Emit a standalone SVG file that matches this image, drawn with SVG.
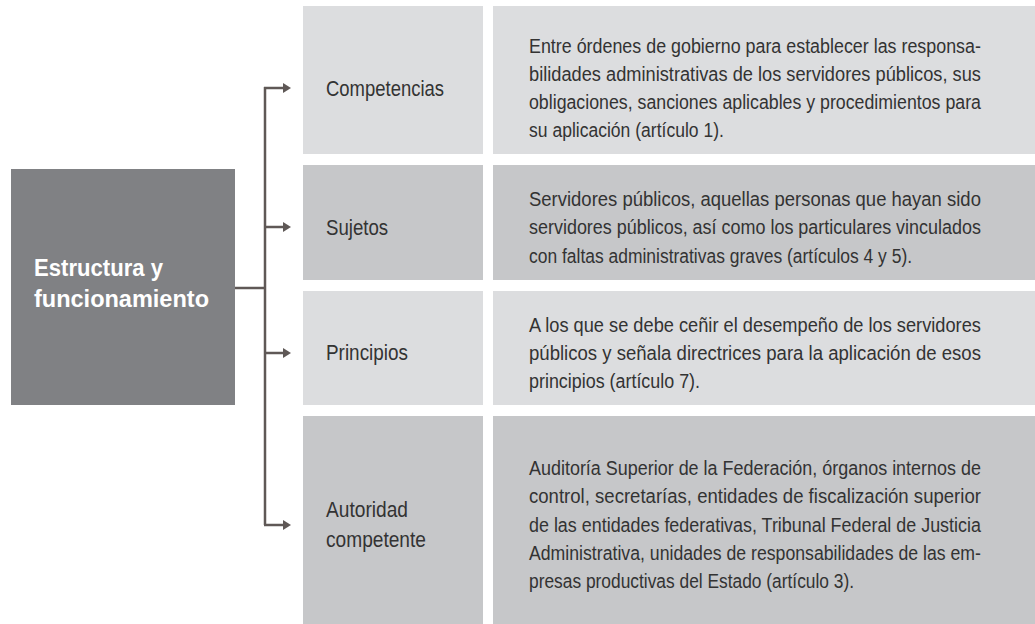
<svg xmlns="http://www.w3.org/2000/svg" width="1035" height="624" viewBox="0 0 1035 624">
<style>
.light{fill:#dcdddf}
.dark{fill:#c6c7c9}
text{font-family:"Liberation Sans",Arial,sans-serif}
.lbl{font-size:22px;fill:#333333}
.body{font-size:21px;fill:#333333}
.title{font-size:23px;font-weight:bold;fill:#ffffff}
.conn{fill:none;stroke:#5f5856;stroke-width:2.5}
</style>
<defs>
<marker id="arr" viewBox="0 0 8 10" refX="0" refY="5" markerWidth="8" markerHeight="10" markerUnits="userSpaceOnUse" orient="auto">
<path d="M0,0 L8,5 L0,10 Z" fill="#5f5856"/>
</marker>
</defs>
<rect width="1035" height="624" fill="#ffffff"/>
<g id="root">
<rect x="11" y="169" width="224" height="236" fill="#808184"/>
<text class="title" x="34" y="276" textLength="129" lengthAdjust="spacingAndGlyphs">Estructura y</text>
<text class="title" x="34" y="307" textLength="175" lengthAdjust="spacingAndGlyphs">funcionamiento</text>
</g>
<g id="connectors">
<path class="conn" d="M235,288 H265"/>
<path class="conn" d="M265,87 V525"/>
<path class="conn" d="M264,88 H283" marker-end="url(#arr)"/>
<path class="conn" d="M264,227 H283" marker-end="url(#arr)"/>
<path class="conn" d="M264,353 H283" marker-end="url(#arr)"/>
<path class="conn" d="M264,525 H283" marker-end="url(#arr)"/>
</g>
<g id="row-competencias">
<rect class="light" x="303" y="6" width="180" height="148"/>
<rect class="light" x="493" y="6" width="542" height="148"/>
<g transform="translate(326,0) scale(0.84,1)">
<text class="lbl" x="0" y="96" textLength="140.5" lengthAdjust="spacingAndGlyphs">Competencias</text>
</g>
<g transform="translate(529,0) scale(0.84,1)">
<text class="body" x="0" y="53" textLength="538" lengthAdjust="spacingAndGlyphs">Entre órdenes de gobierno para establecer las responsa-</text>
<text class="body" x="0" y="81" textLength="538" lengthAdjust="spacingAndGlyphs">bilidades administrativas de los servidores públicos, sus</text>
<text class="body" x="0" y="109" textLength="538" lengthAdjust="spacingAndGlyphs">obligaciones, sanciones aplicables y procedimientos para</text>
<text class="body" x="0" y="137" textLength="232" lengthAdjust="spacingAndGlyphs">su aplicación (artículo 1).</text>
</g>
</g>
<g id="row-sujetos">
<rect class="dark" x="303" y="165" width="180" height="115"/>
<rect class="dark" x="493" y="165" width="542" height="115"/>
<g transform="translate(326,0) scale(0.84,1)">
<text class="lbl" x="0" y="235" textLength="74" lengthAdjust="spacingAndGlyphs">Sujetos</text>
</g>
<g transform="translate(529,0) scale(0.84,1)">
<text class="body" x="0" y="206" textLength="538" lengthAdjust="spacingAndGlyphs">Servidores públicos, aquellas personas que hayan sido</text>
<text class="body" x="0" y="234" textLength="538" lengthAdjust="spacingAndGlyphs">servidores públicos, así como los particulares vinculados</text>
<text class="body" x="0" y="263" textLength="456" lengthAdjust="spacingAndGlyphs">con faltas administrativas graves (artículos 4 y 5).</text>
</g>
</g>
<g id="row-principios">
<rect class="light" x="303" y="291" width="180" height="114"/>
<rect class="light" x="493" y="291" width="542" height="114"/>
<g transform="translate(326,0) scale(0.84,1)">
<text class="lbl" x="0" y="360" textLength="97.6" lengthAdjust="spacingAndGlyphs">Principios</text>
</g>
<g transform="translate(529,0) scale(0.84,1)">
<text class="body" x="0" y="332" textLength="538" lengthAdjust="spacingAndGlyphs">A los que se debe ceñir el desempeño de los servidores</text>
<text class="body" x="0" y="360" textLength="538" lengthAdjust="spacingAndGlyphs">públicos y señala directrices para la aplicación de esos</text>
<text class="body" x="0" y="388" textLength="203.6" lengthAdjust="spacingAndGlyphs">principios (artículo 7).</text>
</g>
</g>
<g id="row-autoridad">
<rect class="dark" x="303" y="416" width="180" height="208"/>
<rect class="dark" x="493" y="416" width="542" height="208"/>
<g transform="translate(326,0) scale(0.84,1)">
<text class="lbl" x="0" y="517" textLength="97.6" lengthAdjust="spacingAndGlyphs">Autoridad</text>
<text class="lbl" x="0" y="547" textLength="119" lengthAdjust="spacingAndGlyphs">competente</text>
</g>
<g transform="translate(529,0) scale(0.84,1)">
<text class="body" x="0" y="475" textLength="538" lengthAdjust="spacingAndGlyphs">Auditoría Superior de la Federación, órganos internos de</text>
<text class="body" x="0" y="503" textLength="538" lengthAdjust="spacingAndGlyphs">control, secretarías, entidades de fiscalización superior</text>
<text class="body" x="0" y="532" textLength="538" lengthAdjust="spacingAndGlyphs">de las entidades federativas, Tribunal Federal de Justicia</text>
<text class="body" x="0" y="560" textLength="538" lengthAdjust="spacingAndGlyphs">Administrativa, unidades de responsabilidades de las em-</text>
<text class="body" x="0" y="588" textLength="387" lengthAdjust="spacingAndGlyphs">presas productivas del Estado (artículo 3).</text>
</g>
</g>
</svg>
